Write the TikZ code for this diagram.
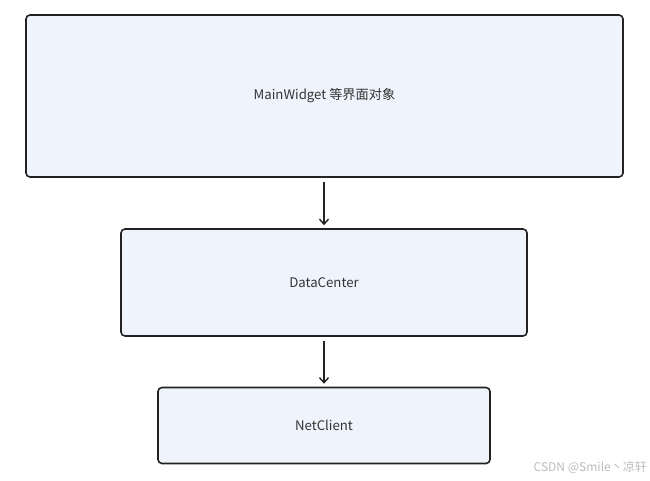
\documentclass[tikz,border=0pt]{standalone}
\usepackage{fontspec}
\setmainfont{Noto Sans CJK SC}
\newfontfamily\cjk{Noto Sans CJK SC}
\usetikzlibrary{arrows.meta}
\definecolor{boxfill}{HTML}{EFF4FC}
\definecolor{boxline}{HTML}{222222}
\definecolor{txt}{HTML}{333333}
\definecolor{wm}{HTML}{BBBBBB}
\tikzset{
  blk/.style={draw=boxline, fill=boxfill, line width=1.6pt, rounded corners=4pt, inner sep=0pt, text=txt, font=\cjk\fontsize{13.2}{16}\selectfont},
  conn/.style={draw=boxline, line width=1.4pt, -{Straight Barb[length=5pt,width=9pt,line width=1.4pt]}}
}
\begin{document}
\begin{tikzpicture}[x=1pt,y=-1pt]
\useasboundingbox (0,0) rectangle (650,481);
\node[blk, minimum width=597pt, minimum height=162pt] (main) at (324.5,96) {MainWidget 等界面对象};
\node[blk, minimum width=406pt, minimum height=107pt] (dc) at (324,282.5) {DataCenter};
\node[blk, minimum width=332pt, minimum height=76pt] (nc) at (324,425.5) {NetClient};
\draw[conn] ([yshift=-4pt]main.south -| dc.north) -- ([yshift=3pt]dc.north);
\draw[conn] ([yshift=-4pt]dc.south) -- ([yshift=3pt]nc.north);
\node[font=\cjk\fontsize{12}{14}\selectfont, text=wm, anchor=east, inner sep=0pt] (wmk) at (647,467) {CSDN @Smile丶凉轩};
\end{tikzpicture}
\end{document}
